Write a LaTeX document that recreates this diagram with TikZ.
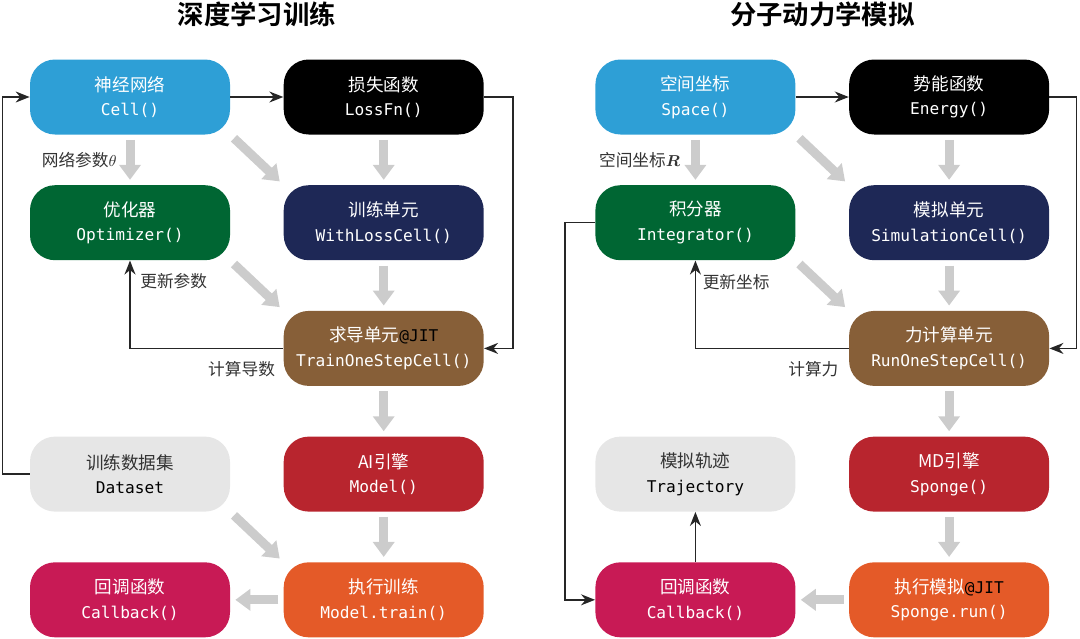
\documentclass[tikz,border=0pt]{standalone}
\usepackage{fontspec}
\usepackage{amsmath}
\setmainfont{Noto Sans CJK SC}[BoldFont={Noto Sans CJK SC Bold}]
\setmonofont{DejaVu Sans Mono}[Scale=0.92]
\usetikzlibrary{arrows.meta,positioning,calc}
\definecolor{CellBlue}{RGB}{46,159,214}
\definecolor{OptGreen}{RGB}{0,102,51}
\definecolor{WrapNavy}{RGB}{30,40,86}
\definecolor{GradBrown}{RGB}{135,95,56}
\definecolor{DataGray}{RGB}{230,230,230}
\definecolor{ModelRed}{RGB}{184,37,46}
\definecolor{RunOrange}{RGB}{228,90,40}
\definecolor{HookPink}{RGB}{200,26,85}
\definecolor{FlowGray}{RGB}{204,204,204}
\definecolor{NoteGray}{RGB}{51,51,51}
\tikzset{
  block/.style={rounded corners=0.5cm,minimum width=4cm,minimum height=1.5cm,
    inner sep=0pt,align=center,text=white,font=\fontsize{10}{14}\selectfont},
  pale/.style={block,fill=DataGray,text=NoteGray},
  flow/.style={-{Triangle[width=0.42cm,length=0.3cm]},line width=0.18cm,
    FlowGray,shorten <=0.1cm,shorten >=0.1cm},
  link/.style={-{Stealth[length=0.28cm,width=0.22cm]},line width=0.85pt,black!85},
  note/.style={font=\fontsize{9.5}{11}\selectfont,text=NoteGray,inner sep=0pt},
  heading/.style={font=\fontsize{15}{18}\selectfont\bfseries}
}

\begin{document}
\begin{tikzpicture}
  \useasboundingbox (0,0) rectangle (21.6,-12.76);
  % deep learning side
  \node[block,fill=CellBlue] (cell) at (2.6,-1.94) {神经网络\\\texttt{Cell()}};
  \node[block,fill=black,right=1.06cm of cell] (loss) {损失函数\\\texttt{LossFn()}};
  \node[block,fill=OptGreen,below=1cm of cell] (opt) {优化器\\\texttt{Optimizer()}};
  \node[block,fill=WrapNavy,below=1cm of loss] (wlc) {训练单元\\\texttt{WithLossCell()}};
  \node[block,fill=GradBrown,below=1cm of wlc] (step) {求导单元\texttt{\color{black}@JIT}\\\texttt{TrainOneStepCell()}};
  \node[block,fill=ModelRed,below=1cm of step] (model) {AI引擎\\\texttt{Model()}};
  \node[pale,left=1.06cm of model] (data) {训练数据集\\\texttt{\color{black}Dataset}};
  \node[block,fill=RunOrange,below=1cm of model] (fit) {执行训练\\\texttt{Model.train()}};
  \node[block,fill=HookPink,left=1.06cm of fit] (cbk) {回调函数\\\texttt{Callback()}};
  \node[heading] (ltitle) at ($(cell.north)!0.5!(loss.north)+(0,0.9)$) {深度学习训练};

  % molecular dynamics side
  \node[block,fill=CellBlue,right=2.22cm of loss] (space) {空间坐标\\\texttt{Space()}};
  \node[block,fill=black,right=1.06cm of space] (energy) {势能函数\\\texttt{Energy()}};
  \node[block,fill=OptGreen,below=1cm of space] (integ) {积分器\\\texttt{Integrator()}};
  \node[block,fill=WrapNavy,below=1cm of energy] (sim) {模拟单元\\\texttt{SimulationCell()}};
  \node[block,fill=GradBrown,below=1cm of sim] (force) {力计算单元\\\texttt{RunOneStepCell()}};
  \node[block,fill=ModelRed,below=1cm of force] (sponge) {MD引擎\\\texttt{Sponge()}};
  \node[pale,left=1.06cm of sponge] (traj) {模拟轨迹\\\texttt{\color{black}Trajectory}};
  \node[block,fill=RunOrange,below=1cm of sponge] (run) {执行模拟\texttt{\color{black}@JIT}\\\texttt{Sponge.run()}};
  \node[block,fill=HookPink,left=1.06cm of run] (rcbk) {回调函数\\\texttt{Callback()}};
  \node[heading] (rtitle) at ($(space.north)!0.5!(energy.north)+(0,0.9)$) {分子动力学模拟};

  % gray data flow
  \draw[flow] (cell) -- (opt);
  \draw[flow] (cell.south east) -- (wlc.north west);
  \draw[flow] (loss) -- (wlc);
  \draw[flow] (opt.south east) -- (step.north west);
  \draw[flow] (wlc) -- (step);
  \draw[flow] (step) -- (model);
  \draw[flow] (data.south east) -- (fit.north west);
  \draw[flow] (model) -- (fit);
  \draw[flow] (fit) -- (cbk);
  \draw[flow] (space) -- (integ);
  \draw[flow] (space.south east) -- (sim.north west);
  \draw[flow] (energy) -- (sim);
  \draw[flow] (integ.south east) -- (force.north west);
  \draw[flow] (sim) -- (force);
  \draw[flow] (force) -- (sponge);
  \draw[flow] (sponge) -- (run);
  \draw[flow] (run) -- (rcbk);

  % black links
  \draw[link] (cell) -- (loss);
  \draw[link] (loss.east) -- ++(0.58,0) |- (step.east);
  \draw[link] (step.west) -| (opt.south);
  \draw[link] (data.west) -- ++(-0.54,0) |- (cell.west);
  \draw[link] (space) -- (energy);
  \draw[link] (energy.east) -- ++(0.54,0) |- (force.east);
  \draw[link] (force.west) -| (integ.south);
  \draw[link] (integ.west) -- ++(-0.6,0) |- (rcbk.west);
  \draw[link] (rcbk) -- (traj);

  % labels
  \node[note,anchor=east] (theta) at ($(cell.south)+(-0.26,-0.5)$) {网络参数$\theta$};
  \node[note,anchor=west] (upd) at ($(opt.south)+(0.2,-0.42)$) {更新参数};
  \node[note,anchor=east] (grad) at ($(step.west)+(-0.16,-0.42)$) {计算导数};
  \node[note,anchor=east] (coord) at ($(space.south)+(-0.3,-0.5)$) {空间坐标$\boldsymbol{R}$};
  \node[note,anchor=west] (updr) at ($(integ.south)+(0.14,-0.44)$) {更新坐标};
  \node[note,anchor=east] (frc) at ($(force.west)+(-0.2,-0.42)$) {计算力};
\end{tikzpicture}
\end{document}
